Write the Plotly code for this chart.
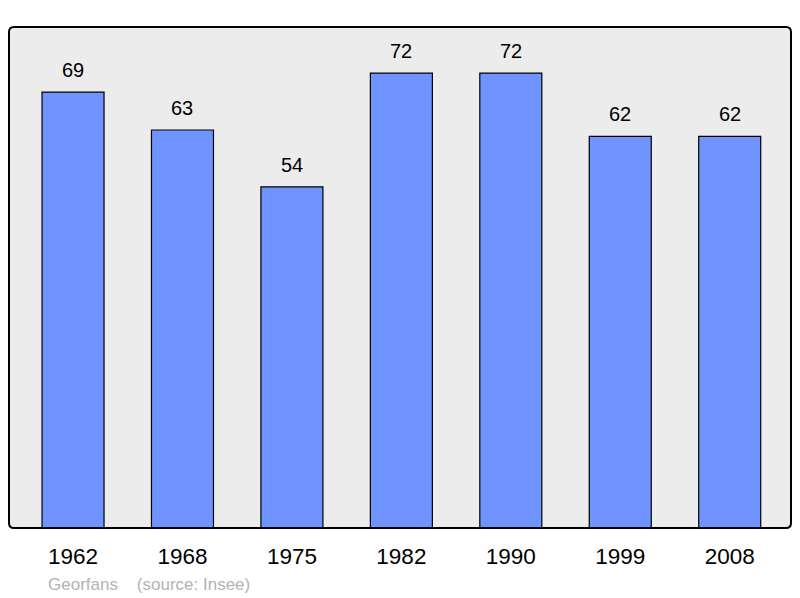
import plotly.graph_objects as go

years = ["1962", "1968", "1975", "1982", "1990", "1999", "2008"]
population = [69, 63, 54, 72, 72, 62, 62]
source_text = "Georfans\u00a0\u00a0\u00a0\u00a0(source: Insee)"

FONT = "Liberation Sans, Arial, sans-serif"

fig = go.Figure()
fig.add_trace(go.Bar(
    x=years, y=population, width=0.5665,
    marker=dict(color="#7094ff", line=dict(color="#000000", width=1.2)),
    hoverinfo="x+y",
))

for i, v in enumerate(population):
    fig.add_annotation(x=i, y=v, text=str(v), showarrow=False,
                       yanchor="middle", yshift=22,
                       font=dict(family=FONT, size=20, color="#000000"))

fig.add_annotation(xref="paper", yref="paper", x=(46 - 9) / 782, y=(528 - 584) / 501,
                   xanchor="left", yanchor="middle", text=source_text, showarrow=False,
                   font=dict(family=FONT, size=17, color="#b3b3b3"))

# rounded frame
rx, ry = 5 / 782, 5 / 501
path = (f"M {rx},0 L {1-rx},0 Q 1,0 1,{ry} L 1,{1-ry} Q 1,1 {1-rx},1 "
        f"L {rx},1 Q 0,1 0,{1-ry} L 0,{ry} Q 0,0 {rx},0 Z")
fig.add_shape(type="path", path=path, xref="paper", yref="paper",
              fillcolor="#ececec", line=dict(width=0), layer="below")
fig.add_shape(type="path", path=path, xref="paper", yref="paper",
              line=dict(color="#000000", width=2), layer="above")

# page has an 8px body margin, so the figure is sized/offset to compensate
fig.update_layout(
    width=792, height=590,
    margin=dict(l=1, r=9, t=19, b=70),
    paper_bgcolor="white", plot_bgcolor="rgba(0,0,0,0)",
    showlegend=False,
    font=dict(family=FONT),
    xaxis=dict(type="category", range=[-0.585, 6.560], showgrid=False, zeroline=False,
               showline=False, ticks="", tickfont=dict(family=FONT, size=22.5, color="#000000"),
               ticklabelstandoff=12, fixedrange=True),
    yaxis=dict(range=[0, 79.3], showgrid=False, zeroline=False, showline=False,
               showticklabels=False, ticks="", fixedrange=True),
)

fig.write_html("out.html")
